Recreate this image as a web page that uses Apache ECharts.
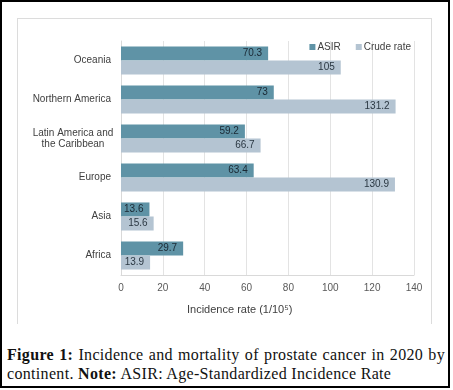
<!DOCTYPE html>
<html>
<head>
<meta charset="utf-8">
<script src="https://cdn.jsdelivr.net/npm/echarts@6/dist/echarts.min.js"></script>
<style>
  body { margin: 0; background: #fff; }
  #frame { position: absolute; left: 0; top: 0; width: 450px; height: 388px; border: 2px solid #000; box-sizing: border-box; }
  #panel { position: absolute; left: 17px; top: 18px; width: 413px; height: 305px; border: 1px solid #dcdcdc; border-bottom: none; }
  #main { position: absolute; left: 0; top: 0; width: 453px; height: 340px; }
  .cap { position: absolute; left: 7px; width: 438px; font-family: 'Liberation Serif', serif; font-size: 16px; line-height: 19px; letter-spacing: 0.32px; color: #111; white-space: nowrap; }
  #cap1 { top: 345px; text-align: justify; text-align-last: justify; }
  #cap2 { top: 364px; }
</style>
</head>
<body>
<div id="frame"></div>
<div id="panel"></div>
<div id="main"></div>
<div class="cap" id="cap1"><b>Figure 1:</b> Incidence and mortality of prostate cancer in 2020 by</div>
<div class="cap" id="cap2">continent. <b>Note:</b> ASIR: Age-Standardized Incidence Rate</div>
<script>
var regions = ['Oceania', 'Northern America', 'Latin America and\nthe Caribbean', 'Europe', 'Asia', 'Africa'];
var asir = [70.3, 73, 59.2, 63.4, 13.6, 29.7];
var crudeRate = [105, 131.2, 66.7, 130.9, 15.6, 13.9];
var xTicks = [0, 20, 40, 60, 80, 100, 120, 140];

var myChart = echarts.init(document.getElementById('main'));
var font = 'Liberation Sans, Arial, sans-serif';

option = {
    animation: false,
    legend: {
        data: ['ASIR', 'Crude rate'],
        right: 37,
        top: 37,
        icon: 'rect',
        itemWidth: 6,
        itemHeight: 6,
        itemGap: 15,
        textStyle: { fontFamily: font, fontSize: 10, color: '#404040', padding: [0, 0, 0, -3] }
    },
    grid: { left: 121, top: 41, width: 293, height: 234 },
    xAxis: {
        type: 'value',
        min: xTicks[0],
        max: xTicks[xTicks.length - 1],
        interval: 20,
        axisLine: { show: true, lineStyle: { color: '#d9d9d9' } },
        axisTick: { show: false },
        splitLine: { lineStyle: { color: '#e3e3e3' } },
        axisLabel: { fontFamily: font, fontSize: 10, color: '#595959', margin: 8 }
    },
    yAxis: {
        type: 'category',
        inverse: true,
        data: regions,
        axisLine: { show: true, lineStyle: { color: '#d9d9d9' } },
        axisTick: { show: false },
        axisLabel: {
            fontFamily: font, fontSize: 10, color: '#404040', margin: 10, lineHeight: 11,
            formatter: function (v) {
                if (v.indexOf('\n') < 0) return v;
                return v.split('\n').map(function (s) { return '{c|' + s + '}'; }).join('\n');
            },
            rich: { c: { width: 76, align: 'center', fontFamily: font, fontSize: 10, color: '#404040', lineHeight: 11 } }
        }
    },
    graphic: [{
        type: 'text',
        left: 187,
        top: 304,
        style: { text: 'Incidence rate (1/10⁵)', fontFamily: font, fontSize: 11, fill: '#404040' }
    }],
    series: [
        {
            name: 'ASIR',
            type: 'bar',
            data: asir,
            barGap: 0,
            barCategoryGap: '28%',
            itemStyle: { color: '#5f93a6' },
            label: { show: true, position: 'insideRight', distance: 6, fontFamily: font, fontSize: 10, color: '#1a2833' }
        },
        {
            name: 'Crude rate',
            type: 'bar',
            data: crudeRate,
            barGap: 0,
            barCategoryGap: '28%',
            itemStyle: { color: '#b4c4d2' },
            label: { show: true, position: 'insideRight', distance: 6, fontFamily: font, fontSize: 10, color: '#2a3742' }
        }
    ]
};

myChart.setOption(option);
</script>
</body>
</html>
